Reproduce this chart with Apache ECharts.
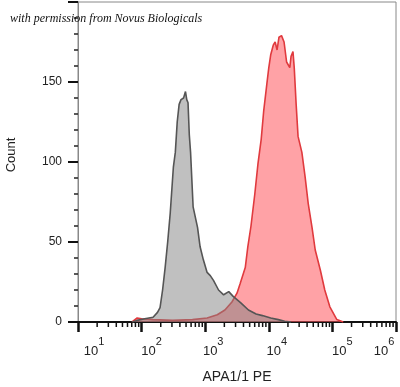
<!DOCTYPE html>
<html><head><meta charset="utf-8">
<script src="https://cdn.jsdelivr.net/npm/echarts@6/dist/echarts.min.js"></script>
<style>html,body{margin:0;padding:0;background:#fff}#c{width:400px;height:387px}</style>
</head><body><div id="c"></div>
<script>
// x values are log10(fluorescence intensity)
const grayLogX = [1.85,1.93,2.05,2.18,2.25,2.29,2.33,2.37,2.41,2.45,2.50,2.53,2.56,2.59,2.62,2.66,2.69,2.71,2.73,2.75,2.77,2.81,2.88,2.92,2.97,3.03,3.08,3.13,3.21,3.29,3.37,3.44,3.56,3.68,3.80,3.90,4.03,4.15,4.25,4.35];
const grayCount = [0,1,2,3,6,9,20,34,50,68,97,106,125,136,139,140,144,139,137,117,106,72,59,47,39,31,29,26,20,17,19,16,12,7.5,5,4,2.5,1.5,0.5,0];
const redLogX = [1.85,1.93,2.0,2.18,2.49,2.8,3.03,3.19,3.31,3.42,3.50,3.55,3.63,3.67,3.72,3.78,3.83,3.88,3.92,3.97,4.00,4.03,4.07,4.10,4.13,4.16,4.20,4.24,4.28,4.33,4.35,4.38,4.40,4.43,4.46,4.52,4.57,4.62,4.68,4.73,4.81,4.88,4.96,5.07,5.17];
const redCount = [0,2.5,2,1.5,1,1.5,2.5,4.5,7.5,12.5,18,24,34,47,60,80,99,114,132,149,159,167,173,175,170,178,179,175,162.5,159,166,169,159,136,116,106,91,74,59,45,32.5,20,9.5,1.5,0];
const xTickExponents = [1,2,3,4,5,6];
const minorTickIntensity = [20,30,40,50,60,70,80,90,200,300,400,500,600,700,800,900,2000,3000,4000,5000,6000,7000,8000,9000,20000,30000,40000,50000,60000,70000,80000,90000,200000,300000,400000,500000,600000,700000,800000,900000];
const yTicks = [0,50,100,150];

const labelShift = {1:16,2:10,3:8,4:8,5:10,6:-12};
const rich = {};
for (const n of xTickExponents) {
  const d = labelShift[n];
  rich['b'+n] = {fontSize:13, color:'#222', fontFamily:'Liberation Sans', lineHeight:22, verticalAlign:'bottom', padding:[0,0,0,d>0?2*d:0]};
  rich['e'+n] = {fontSize:11, color:'#222', fontFamily:'Liberation Sans', lineHeight:22, verticalAlign:'top', padding:[0,d<0?-2*d:0,0,0]};
}

const chart = echarts.init(document.getElementById('c'), null, {renderer:'canvas'});
chart.setOption({
  animation:false,
  title:{text:'with permission from Novus Biologicals', left:5, top:8,
    textStyle:{fontFamily:'Liberation Serif', fontStyle:'italic', fontWeight:'normal', fontSize:12, color:'#111'}},
  grid:{left:78, right:4, top:2, bottom:65, show:true, borderColor:'#888', borderWidth:1, containLabel:false, outerBoundsMode:'none'},
  xAxis:{type:'value', min:1, max:6, interval:1,
    name:'APA1/1 PE', nameLocation:'middle', nameGap:48,
    nameTextStyle:{fontFamily:'Liberation Sans', fontSize:14, color:'#222'},
    axisLine:{lineStyle:{color:'#111', width:2}},
    axisTick:{length:10, lineStyle:{color:'#111', width:2.5}},
    splitLine:{show:false},
    axisLabel:{margin:14, formatter:function(v){const n=Math.round(v); return '{b'+n+'|10}{e'+n+'|'+n+'}';}, rich:rich}
  },
  yAxis:{type:'value', min:0, max:200, interval:50,
    name:'Count', nameLocation:'middle', nameGap:60,
    nameTextStyle:{fontFamily:'Liberation Sans', fontSize:13, color:'#222', padding:[0,0,0,14]},
    axisLine:{show:true, lineStyle:{color:'#888', width:1}},
    axisTick:{length:10, lineStyle:{color:'#111', width:2}},
    minorTick:{show:true, splitNumber:5, length:4, lineStyle:{color:'#222', width:1.5}},
    splitLine:{show:false}, minorSplitLine:{show:false},
    axisLabel:{margin:16, fontFamily:'Liberation Sans', fontSize:12, color:'#222',
      formatter:function(v){return yTicks.indexOf(v)>=0 ? String(v) : '';}}
  },
  series:[
    {type:'line', name:'APA1/1', data:redLogX.map((x,i)=>[x,redCount[i]]), symbol:'none',
      lineStyle:{color:'#e03a3e', width:1.6}, areaStyle:{color:'rgba(255,85,92,0.55)', opacity:1}, z:2},
    {type:'line', name:'Isotype', data:grayLogX.map((x,i)=>[x,grayCount[i]]), symbol:'none',
      lineStyle:{color:'#555', width:1.6}, areaStyle:{color:'rgba(130,130,130,0.5)', opacity:1}, z:3},
    {type:'custom', name:'minorTicks', clip:false, silent:true, z:5,
      data:minorTickIntensity.map(v=>[Math.log10(v)]),
      renderItem:function(params, api){
        const p = api.coord([api.value(0), 0]);
        return {type:'line', shape:{x1:p[0], y1:p[1], x2:p[0], y2:p[1]+5}, style:{stroke:'#111', lineWidth:1.5}};
      }}
  ]
});
</script></body></html>
